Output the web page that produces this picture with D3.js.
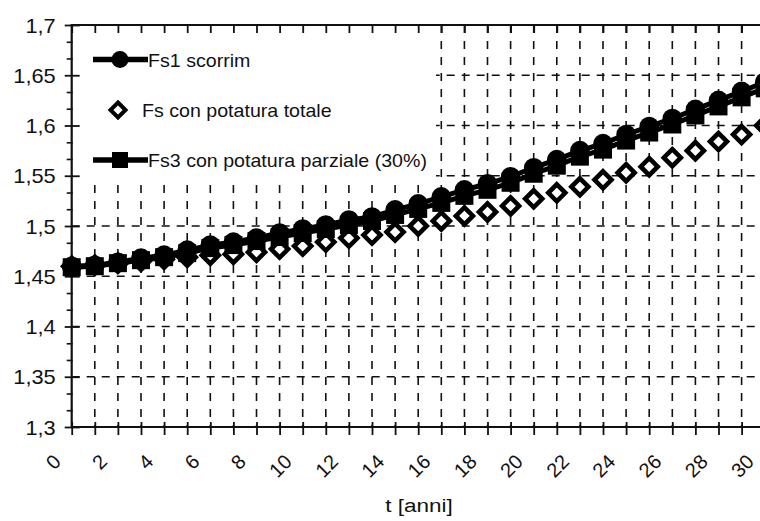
<!DOCTYPE html>
<html><head><meta charset="utf-8">
<script src="https://cdn.jsdelivr.net/npm/d3@7"></script>
<style>
body{margin:0;background:#fff}
svg{display:block}
text{font-family:"Liberation Sans",Arial,Helvetica,sans-serif;fill:#111}
</style>
</head><body>
<svg id="c" width="760" height="521"></svg>
<script>
// ---- data ----
const years = [0,1,2,3,4,5,6,7,8,9,10,11,12,13,14,15,16,17,18,19,20,21,22,23,24,25,26,27,28,29,30];
const fs1Scorrim = [1.460,1.461,1.464,1.468,1.471,1.476,1.481,1.484,1.488,1.493,1.497,1.501,1.506,1.509,1.516,1.522,1.529,1.536,1.542,1.549,1.558,1.566,1.575,1.582,1.591,1.599,1.607,1.616,1.625,1.634,1.643];
const fsPotTotale = [1.460,1.461,1.463,1.465,1.467,1.469,1.471,1.472,1.474,1.477,1.480,1.484,1.488,1.491,1.494,1.500,1.505,1.510,1.514,1.520,1.527,1.533,1.539,1.546,1.553,1.559,1.568,1.575,1.584,1.591,1.600];
const fs3PotParziale = [1.459,1.460,1.463,1.466,1.469,1.473,1.478,1.481,1.485,1.489,1.493,1.497,1.501,1.505,1.511,1.517,1.523,1.530,1.536,1.543,1.552,1.560,1.569,1.576,1.585,1.593,1.601,1.610,1.619,1.628,1.637];
const seriesNames = ["Fs1 scorrim","Fs con potatura totale","Fs3 con potatura parziale (30%)"];
const yTicks = [1.3,1.35,1.4,1.45,1.5,1.55,1.6,1.65,1.7];
const yTickLabels = ["1,3","1,35","1,4","1,45","1,5","1,55","1,6","1,65","1,7"];
const yGrid = [1.35,1.4,1.45,1.5,1.55,1.6,1.65];
const yMinor = [1.3167,1.3333,1.3667,1.3833,1.4167,1.4333,1.4667,1.4833,1.5167,1.5333,1.5667,1.5833,1.6167,1.6333,1.6667,1.6833];
const xTicks = [0,2,4,6,8,10,12,14,16,18,20,22,24,26,28,30];
const xTickLabels = ["0","2","4","6","8","10","12","14","16","18","20","22","24","26","28","30"];
const xTitle = "t [anni]";

// ---- layout ----
const W = 760, H = 521;
const L = 71.7, R = 764.7, T = 25, B = 427;
const svg = d3.select("#c");
const x = d3.scaleLinear().domain([0,30]).range([L,R]);
const y = d3.scaleLinear().domain([1.3,1.7]).range([B,T]);
const SX = 1.09; // horizontal text stretch seen in the reference
const ink = "#111";

// grid
const grid = svg.append("g");
grid.selectAll("line.v").data(years.filter(d=>d>0)).join("line")
  .attr("x1",d=>x(d)).attr("x2",d=>x(d)).attr("y1",T).attr("y2",B)
  .attr("stroke",ink).attr("stroke-width",1.6).attr("stroke-dasharray","8,8");
grid.selectAll("line.h").data(yGrid).join("line")
  .attr("x1",L).attr("x2",W).attr("y1",d=>y(d)).attr("y2",d=>y(d))
  .attr("stroke",ink).attr("stroke-width",1.6).attr("stroke-dasharray","8,7");

// legend background (hides grid)
svg.append("rect").attr("x",L+1).attr("y",T+1).attr("width",436-L-1).attr("height",184-T-1).attr("fill","#fff");

// axes
const axL = svg.append("g").attr("transform",`translate(${L},0)`)
  .call(d3.axisLeft(y).tickValues(yTicks).tickSize(7).tickPadding(0).tickFormat((d,i)=>yTickLabels[i]));
axL.select(".domain").remove();
axL.selectAll(".tick line").attr("x1",8).attr("x2",-7).attr("stroke",ink).attr("stroke-width",1.8);
axL.selectAll(".tick text").attr("x",null).attr("dy",null)
  .attr("text-anchor","end").attr("dominant-baseline","central")
  .attr("transform",`translate(-16,0) scale(${SX},1)`)
  .style("font-size","20px").style("font-family",null).attr("fill",ink);
const axLm = svg.append("g").attr("transform",`translate(${L},0)`)
  .call(d3.axisLeft(y).tickValues(yMinor).tickSize(5).tickFormat(""));
axLm.select(".domain").remove();
axLm.selectAll(".tick line").attr("x1",1).attr("x2",-5).attr("stroke",ink).attr("stroke-width",1.6);

const axB = svg.append("g").attr("transform",`translate(0,${B})`)
  .call(d3.axisBottom(x).tickValues(years).tickSize(8).tickFormat(""));
axB.select(".domain").remove();
axB.selectAll(".tick line").attr("y1",-5).attr("y2",8).attr("stroke",ink).attr("stroke-width",1.8);

const axT = svg.append("g").attr("transform",`translate(0,${T})`)
  .call(d3.axisTop(x).tickValues(years).tickSize(-8).tickFormat(""));
axT.select(".domain").remove();
axT.selectAll(".tick line").attr("stroke",ink).attr("stroke-width",1.8);

svg.append("line").attr("x1",L).attr("x2",L).attr("y1",T-1).attr("y2",B+1).attr("stroke",ink).attr("stroke-width",2.2);
svg.append("line").attr("x1",L).attr("x2",W).attr("y1",T).attr("y2",T).attr("stroke",ink).attr("stroke-width",2.2);
svg.append("line").attr("x1",L).attr("x2",W).attr("y1",B).attr("y2",B).attr("stroke",ink).attr("stroke-width",2.2);

// x tick labels rotated
svg.append("g").selectAll("text").data(xTicks).join("text")
  .attr("transform",d=>`translate(${x(d)-9.5},463) rotate(-45)`)
  .attr("text-anchor","end").style("font-size","20px").attr("fill",ink)
  .text((d,i)=>xTickLabels[i]);

// axis title
svg.append("text").attr("transform",`translate(419,506) scale(1.25,1)`)
  .attr("text-anchor","middle").attr("dominant-baseline","central")
  .style("font-size","18px").attr("fill",ink).text(xTitle);

// ---- series ----
const diamond = (cx,cy,s)=>`M${cx},${cy-s}L${cx+s},${cy}L${cx},${cy+s}L${cx-s},${cy}Z`;
const data = years.map((t,i)=>({t, a:fs1Scorrim[i], b:fsPotTotale[i], c:fs3PotParziale[i]}));

// diamonds (open)
svg.append("g").selectAll("path").data(data).join("path")
  .attr("d",d=>diamond(x(d.t),y(d.b),8.5))
  .attr("fill","#fff").attr("stroke","#000").attr("stroke-width",4.6).attr("stroke-linejoin","miter");

// Fs1 line + circles
const lineA = d3.line().x(d=>x(d.t)).y(d=>y(d.a));
svg.append("path").datum(data).attr("d",lineA).attr("fill","none").attr("stroke","#000").attr("stroke-width",5);
svg.append("g").selectAll("circle").data(data).join("circle")
  .attr("cx",d=>x(d.t)).attr("cy",d=>y(d.a)).attr("r",9.8).attr("fill","#000");

// Fs3 line + squares
const lineC = d3.line().x(d=>x(d.t)).y(d=>y(d.c));
svg.append("path").datum(data).attr("d",lineC).attr("fill","none").attr("stroke","#000").attr("stroke-width",5);
svg.append("g").selectAll("rect").data(data).join("rect")
  .attr("x",d=>x(d.t)-9).attr("y",d=>y(d.c)-9).attr("width",18).attr("height",18).attr("fill","#000");

// ---- legend ----
const lg = svg.append("g");
const rows = [59.5, 110, 160];
lg.append("line").attr("x1",93).attr("x2",148).attr("y1",rows[0]).attr("y2",rows[0]).attr("stroke","#000").attr("stroke-width",5.5);
lg.append("circle").attr("cx",120).attr("cy",rows[0]).attr("r",8.5).attr("fill","#000");
lg.append("path").attr("d",diamond(118,rows[1],7.5)).attr("fill","#fff").attr("stroke","#000").attr("stroke-width",4);
lg.append("line").attr("x1",93).attr("x2",148).attr("y1",rows[2]).attr("y2",rows[2]).attr("stroke","#000").attr("stroke-width",5.5);
lg.append("rect").attr("x",112).attr("y",rows[2]-8).attr("width",16).attr("height",16).attr("fill","#000");
const textX = [148, 142, 148];
lg.selectAll("text").data(seriesNames).join("text")
  .attr("transform",(d,i)=>`translate(${textX[i]},${rows[i]+1}) scale(${SX},1)`)
  .attr("dominant-baseline","central").style("font-size","18px").attr("fill",ink)
  .text(d=>d);
</script>
</body></html>
